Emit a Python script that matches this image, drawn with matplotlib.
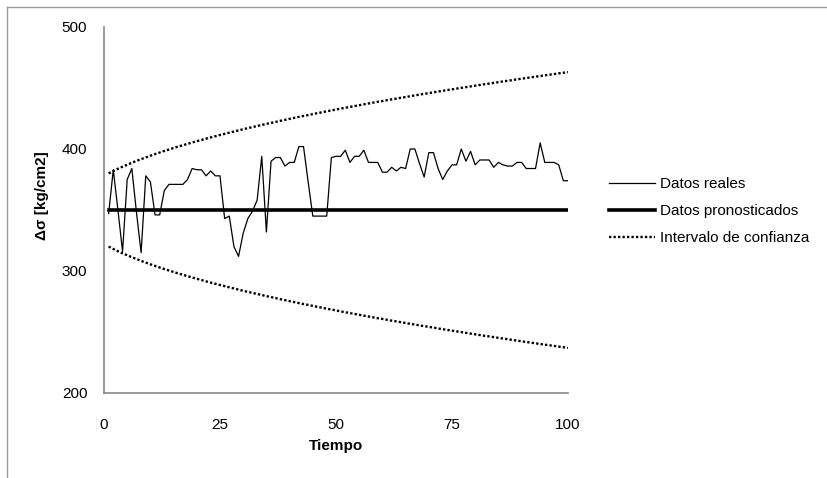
import numpy as np
import matplotlib
matplotlib.use("Agg")
import matplotlib.pyplot as plt
from matplotlib.lines import Line2D

plt.rcParams['font.family'] = ['Liberation Sans', 'DejaVu Sans']

# data
tiempo = np.arange(1, 101)
datos_reales = [
    347, 383, 350, 316, 375, 384, 348, 315, 378, 373,
    346, 346, 366, 371, 371, 371, 371, 375, 384, 383,
    383, 378, 382, 378, 378, 343, 345, 320, 312, 331,
    343, 349, 358, 394, 332, 390, 393, 393, 386, 389,
    389, 402, 402, 373, 345, 345, 345, 345, 393, 394,
    394, 399, 389, 394, 394, 399, 389, 389, 389, 381,
    381, 385, 382, 385, 384, 400, 400, 388, 377, 397,
    397, 384, 375, 382, 387, 387, 400, 390, 398, 387,
    391, 391, 391, 385, 389, 387, 386, 386, 389, 389,
    384, 384, 384, 405, 389, 389, 389, 387, 374, 374,
]
pronostico = 350
semi_ancho = [
    30.0, 31.9, 33.8, 35.5, 37.1, 38.7, 40.2, 41.7, 43.1, 44.5,
    45.8, 47.1, 48.4, 49.6, 50.8, 52.0, 53.1, 54.2, 55.3, 56.4,
    57.4, 58.5, 59.5, 60.5, 61.5, 62.4, 63.4, 64.3, 65.3, 66.2,
    67.1, 68.0, 68.8, 69.7, 70.6, 71.4, 72.2, 73.1, 73.9, 74.7,
    75.5, 76.3, 77.1, 77.8, 78.6, 79.4, 80.1, 80.9, 81.6, 82.3,
    83.1, 83.8, 84.5, 85.2, 85.9, 86.6, 87.3, 88.0, 88.7, 89.3,
    90.0, 90.7, 91.3, 92.0, 92.6, 93.3, 93.9, 94.6, 95.2, 95.8,
    96.4, 97.1, 97.7, 98.3, 98.9, 99.5, 100.1, 100.7, 101.3, 101.9,
    102.5, 103.1, 103.6, 104.2, 104.8, 105.4, 105.9, 106.5, 107.1, 107.6,
    108.2, 108.7, 109.3, 109.8, 110.4, 110.9, 111.4, 112.0, 112.5, 113.0,
]
x_ticks = [0, 25, 50, 75, 100]
y_ticks = [200, 300, 400, 500]

pron = np.full(len(tiempo), pronostico, dtype=float)
superior = pron + np.array(semi_ancho)
inferior = pron - np.array(semi_ancho)

W, H = 827, 478
fig = plt.figure(figsize=(W / 100, H / 100), dpi=100)
ax = fig.add_axes([104 / W, 1 - 393 / H, (568 - 104) / W, (393 - 27) / H])

dot = (0, (1.0, 0.9))
ax.plot(tiempo, datos_reales, color='black', lw=0.9, label='Datos reales')
ax.plot(tiempo, pron, color='black', lw=2.6, label='Datos pronosticados')
ax.plot(tiempo, superior, color='black', lw=1.7, linestyle=dot, label='Intervalo de confianza')
ax.plot(tiempo, inferior, color='black', lw=1.7, linestyle=dot)

ax.set_xlim(0, 100)
ax.set_ylim(200, 500)
ax.set_xticks(x_ticks)
ax.set_yticks(y_ticks)
ax.tick_params(length=0, labelsize=11)
ax.tick_params(axis='x', pad=18)
ax.tick_params(axis='y', pad=12)

for side in ['top', 'right']:
    ax.spines[side].set_visible(False)
for side in ['left', 'bottom']:
    ax.spines[side].set_color('#868686')
    ax.spines[side].set_linewidth(1.2)

ax.set_xlabel('Tiempo', fontsize=11, fontweight='bold', va='center')
ax.xaxis.set_label_coords(0.5, -0.145)
ax.set_ylabel('Δσ [kg/cm2]', fontsize=11, fontweight='bold', va='center')
ax.yaxis.set_label_coords(-0.134, 0.54)

fig.legend(loc='center left', bbox_to_anchor=(609 / W, 1 - 211 / H),
           frameon=False, fontsize=11, handlelength=3.0, handletextpad=0.35,
           labelspacing=0.85, borderpad=0, borderaxespad=0)

# outer chart frame (only top and left edges visible)
fig.add_artist(Line2D([7 / W, 7 / W], [0, 1 - 7 / H], transform=fig.transFigure,
                      color='#9a9a9a', lw=1))
fig.add_artist(Line2D([7 / W, 1], [1 - 7 / H, 1 - 7 / H], transform=fig.transFigure,
                      color='#9a9a9a', lw=1))

fig.savefig('out.png', dpi=100)
